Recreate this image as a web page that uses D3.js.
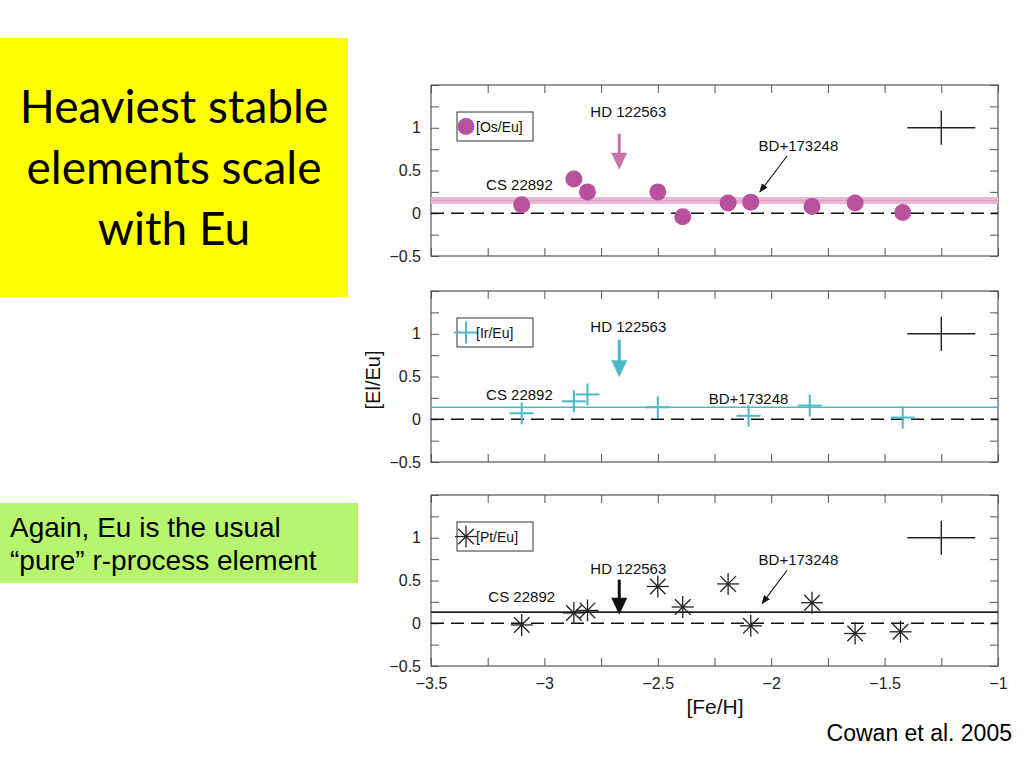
<!DOCTYPE html>
<html>
<head>
<meta charset="utf-8">
<script src="https://cdn.jsdelivr.net/npm/d3@7"></script>
<style>
  body { margin: 0; background: #fff; }
</style>
</head>
<body>
<svg id="chart" width="1024" height="768"></svg>
<script>
// values ([Fe/H] vs [El/Eu])
const osFeH = [-3.10, -2.87, -2.81, -2.50, -2.39, -2.19, -2.09, -1.82, -1.63, -1.42];
const osEu  = [0.10, 0.40, 0.25, 0.25, -0.04, 0.12, 0.13, 0.08, 0.12, 0.01];
const irFeH = [-3.10, -2.87, -2.81, -2.50, -2.10, -1.83, -1.42];
const irEu  = [0.07, 0.21, 0.29, 0.14, 0.04, 0.16, 0.02];
const ptFeH = [-3.10, -2.87, -2.81, -2.50, -2.39, -2.19, -2.09, -1.82, -1.63, -1.43];
const ptEu  = [-0.02, 0.12, 0.15, 0.43, 0.19, 0.46, -0.03, 0.24, -0.12, -0.10];
const meanEu = [0.15, 0.14, 0.13];
const seriesNames = ['[Os/Eu]', '[Ir/Eu]', '[Pt/Eu]'];
const xTicks = [-3.5, -3, -2.5, -2, -1.5, -1];
const yTicks = [-0.5, 0, 0.5, 1];
const errBar = {x: -1.25, y: 1.0, dx: 0.15, dy: 0.2};

const svg = d3.select('#chart');
const FONT = 'Liberation Sans, Arial, sans-serif';

// left hand slide boxes
svg.append('rect').attr('x', 0).attr('y', 38).attr('width', 348).attr('height', 259).attr('fill', '#ffff00');
const title = svg.append('text')
  .attr('font-family', 'Lato, Open Sans, sans-serif')
  .attr('font-size', 46)
  .attr('text-anchor', 'middle')
  .attr('fill', '#000');
['Heaviest stable', 'elements scale', 'with Eu'].forEach((t, i) => {
  title.append('tspan').attr('x', 174).attr('y', 123 + i * 61).text(t);
});

svg.append('rect').attr('x', 0).attr('y', 503).attr('width', 358).attr('height', 80).attr('fill', '#b8f56f');
const note = svg.append('text')
  .attr('font-family', FONT)
  .attr('font-size', 28)
  .attr('fill', '#000');
['Again, Eu is the usual', '\u201cpure\u201d r-process element'].forEach((t, i) => {
  note.append('tspan').attr('x', 10).attr('y', 537 + i * 33).text(t);
});

svg.append('text')
  .attr('x', 1012).attr('y', 741)
  .attr('text-anchor', 'end')
  .attr('font-family', FONT)
  .attr('font-size', 23)
  .text('Cowan et al. 2005');

// chart
const x = d3.scaleLinear().domain([-3.5, -1]).range([431, 998]);
const fmt = d3.format('~g');
const xMinor = d3.range(-3.5, -0.99, 0.25);
const yMinor = d3.range(-0.5, 1.51, 0.25);
const isMajor = (list, d) => list.some(t => Math.abs(t - d) < 1e-9);

const panels = [
  {top: 85, feh: osFeH, vals: osEu, color: '#b9529d', band: '#ebb6d5', sym: 'circle', arrowColor: '#c773ab',
   hd: {lx: -2.63, ly: 1.12, y1: 0.93, y2: 0.51}, bd: {lx: -1.88, ly: 0.73, arrow: [-1.93, 0.67, -2.05, 0.25]},
   cs: {lx: -3.11, ly: 0.27}},
  {top: 291, feh: irFeH, vals: irEu, color: '#4bbac5', band: null, sym: 'plus', arrowColor: '#4bbac5',
   hd: {lx: -2.63, ly: 1.02, y1: 0.93, y2: 0.49}, bd: {lx: -2.10, ly: 0.18, arrow: null},
   cs: {lx: -3.11, ly: 0.22}},
  {top: 495, feh: ptFeH, vals: ptEu, color: '#222', band: null, sym: 'star', arrowColor: '#111',
   hd: {lx: -2.63, ly: 0.58, y1: 0.51, y2: 0.10}, bd: {lx: -1.88, ly: 0.68, arrow: [-1.93, 0.62, -2.04, 0.23]},
   cs: {lx: -3.10, ly: 0.25}}
];
const PH = 171;

const defs = svg.append('defs');
defs.append('marker')
  .attr('id', 'thinhead')
  .attr('viewBox', '0 0 10 10')
  .attr('refX', 9).attr('refY', 5)
  .attr('markerWidth', 9).attr('markerHeight', 9)
  .attr('markerUnits', 'userSpaceOnUse')
  .attr('orient', 'auto')
  .append('path').attr('d', 'M0,1L10,5L0,9Z').attr('fill', '#111');

function drawSymbol(g, kind, cx, cy, color) {
  if (kind === 'circle') {
    g.append('circle').attr('cx', cx).attr('cy', cy).attr('r', 8.5).attr('fill', color);
  } else if (kind === 'plus') {
    g.append('line').attr('x1', cx - 12).attr('x2', cx + 12).attr('y1', cy).attr('y2', cy)
      .attr('stroke', color).attr('stroke-width', 2);
    g.append('line').attr('x1', cx).attr('x2', cx).attr('y1', cy - 11).attr('y2', cy + 11)
      .attr('stroke', color).attr('stroke-width', 2);
  } else {
    [0, 45, 90, 135].forEach(a => {
      const r = a * Math.PI / 180, dx = 11 * Math.cos(r), dy = 11 * Math.sin(r);
      g.append('line').attr('x1', cx - dx).attr('x2', cx + dx).attr('y1', cy - dy).attr('y2', cy + dy)
        .attr('stroke', color).attr('stroke-width', 1.3);
    });
  }
}

panels.forEach((p, pi) => {
  const y = d3.scaleLinear().domain([-0.5, 1.5]).range([p.top + PH, p.top]);
  const g = svg.append('g');

  // ticks (inward on all four sides)
  const axes = [
    [d3.axisLeft(y).tickValues(yMinor).tickSize(-8).tickPadding(10)
       .tickFormat(d => isMajor(yTicks, d) && d < 1.4 ? fmt(d) : ''), `translate(${x.range()[0]},0)`],
    [d3.axisRight(y).tickValues(yMinor).tickSize(-8).tickFormat(''), `translate(${x.range()[1]},0)`],
    [d3.axisTop(x).tickValues(xMinor).tickSize(-8).tickFormat(''), `translate(0,${p.top})`],
    [d3.axisBottom(x).tickValues(xMinor).tickSize(-8).tickPadding(12)
       .tickFormat(d => pi === 2 && isMajor(xTicks, d) ? fmt(d) : ''), `translate(0,${p.top + PH})`]
  ];
  axes.forEach(([ax, tr]) => {
    const a = g.append('g').attr('transform', tr).call(ax);
    a.select('.domain').remove();
    a.selectAll('line').attr('stroke', '#555');
    a.selectAll('text').attr('font-family', FONT).attr('font-size', 16).attr('fill', '#222');
  });

  g.append('rect')
    .attr('x', x.range()[0]).attr('y', p.top)
    .attr('width', x.range()[1] - x.range()[0]).attr('height', PH)
    .attr('fill', 'none').attr('stroke', '#555').attr('stroke-width', 1.2);

  // zero line
  g.append('line')
    .attr('x1', x.range()[0]).attr('x2', x.range()[1])
    .attr('y1', y(0)).attr('y2', y(0))
    .attr('stroke', '#111').attr('stroke-width', 1.6).attr('stroke-dasharray', '13,7');

  // mean line
  if (p.band) {
    g.append('line')
      .attr('x1', x.range()[0]).attr('x2', x.range()[1])
      .attr('y1', y(meanEu[pi])).attr('y2', y(meanEu[pi]))
      .attr('stroke', p.band).attr('stroke-width', 7);
    g.append('line')
      .attr('x1', x.range()[0]).attr('x2', x.range()[1])
      .attr('y1', y(meanEu[pi])).attr('y2', y(meanEu[pi]))
      .attr('stroke', '#dc9cc4').attr('stroke-width', 1);
  } else {
    g.append('line')
      .attr('x1', x.range()[0]).attr('x2', x.range()[1])
      .attr('y1', y(meanEu[pi])).attr('y2', y(meanEu[pi]))
      .attr('stroke', p.color).attr('stroke-width', 1.6);
  }

  // error cross
  g.append('line')
    .attr('x1', x(errBar.x - errBar.dx)).attr('x2', x(errBar.x + errBar.dx))
    .attr('y1', y(errBar.y)).attr('y2', y(errBar.y))
    .attr('stroke', '#222').attr('stroke-width', 1.4);
  g.append('line')
    .attr('x1', x(errBar.x)).attr('x2', x(errBar.x))
    .attr('y1', y(errBar.y - errBar.dy)).attr('y2', y(errBar.y + errBar.dy))
    .attr('stroke', '#222').attr('stroke-width', 1.4);

  // legend
  const lx = 457, ly = p.top + 27;
  g.append('rect').attr('x', lx).attr('y', ly).attr('width', 76).attr('height', 29)
    .attr('fill', '#fff').attr('stroke', '#333').attr('stroke-width', 1);
  drawSymbol(g, p.sym, lx + 9, ly + 14.5, p.color);
  g.append('text').attr('x', lx + 19).attr('y', ly + 20)
    .attr('font-family', FONT).attr('font-size', 14).attr('fill', '#111')
    .text(seriesNames[pi]);

  // star labels
  const lab = (t, lxv, lyv) => g.append('text')
    .attr('x', x(lxv)).attr('y', y(lyv))
    .attr('text-anchor', 'middle')
    .attr('font-family', FONT).attr('font-size', 15).attr('fill', '#111')
    .text(t);
  lab('HD 122563', p.hd.lx, p.hd.ly);
  lab('BD+173248', p.bd.lx, p.bd.ly);
  lab('CS 22892', p.cs.lx, p.cs.ly);

  // HD 122563 thick arrow
  const ax0 = x(-2.67), ay1 = y(p.hd.y1), ay2 = y(p.hd.y2);
  g.append('line').attr('x1', ax0).attr('x2', ax0).attr('y1', ay1).attr('y2', ay2 - 14)
    .attr('stroke', p.arrowColor).attr('stroke-width', 3);
  g.append('path')
    .attr('d', `M${ax0 - 8},${ay2 - 17}L${ax0 + 8},${ay2 - 17}L${ax0},${ay2}Z`)
    .attr('fill', p.arrowColor);

  // BD+173248 thin arrow
  if (p.bd.arrow) {
    const [a1, b1, a2, b2] = p.bd.arrow;
    g.append('line')
      .attr('x1', x(a1)).attr('y1', y(b1)).attr('x2', x(a2)).attr('y2', y(b2))
      .attr('stroke', '#111').attr('stroke-width', 1.1)
      .attr('marker-end', 'url(#thinhead)');
  }

  // data points
  const pts = g.append('g');
  p.feh.forEach((fx, i) => drawSymbol(pts, p.sym, x(fx), y(p.vals[i]), p.color));
});

// axis titles
svg.append('text')
  .attr('transform', 'translate(380,380) rotate(-90)')
  .attr('text-anchor', 'middle')
  .attr('font-family', FONT).attr('font-size', 20).attr('fill', '#111')
  .text('[El/Eu]');
svg.append('text')
  .attr('x', 715).attr('y', 714)
  .attr('text-anchor', 'middle')
  .attr('font-family', FONT).attr('font-size', 21).attr('fill', '#111')
  .text('[Fe/H]');
</script>
</body>
</html>
